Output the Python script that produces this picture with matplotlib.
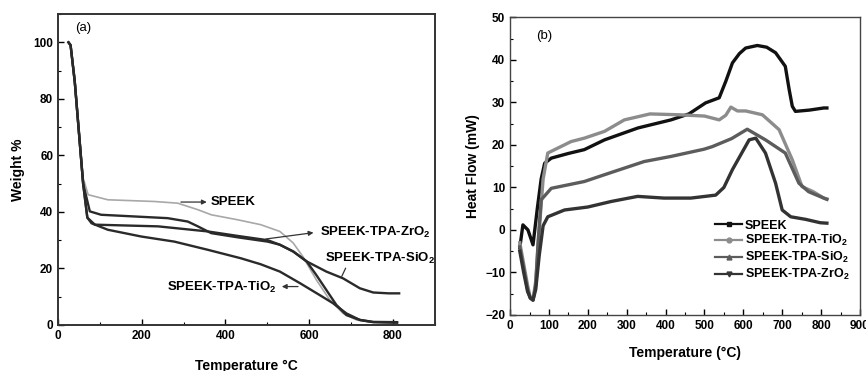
import matplotlib
matplotlib.use('Agg')
import matplotlib.pyplot as plt
from matplotlib.ticker import MultipleLocator

plt.rcParams['font.family'] = ['Liberation Sans', 'DejaVu Sans']
plt.rcParams['font.weight'] = 'bold'
plt.rcParams['mathtext.fontset'] = 'custom'
plt.rcParams['mathtext.rm'] = 'Liberation Sans:bold'
plt.rcParams['mathtext.bf'] = 'Liberation Sans:bold'
plt.rcParams['mathtext.default'] = 'bf'

# ---- (a) TGA data ----
tga_speek_x = [25, 30, 40, 50, 60, 72, 119, 230, 286, 334, 366, 430, 484, 530, 562, 585, 617, 649, 681, 713, 745, 780, 810]
tga_speek_y = [100, 99, 88, 70, 52, 46.1, 44.3, 43.7, 43.1, 40.8, 39, 37.2, 35.5, 33.1, 29, 24.2, 16, 8.9, 4.1, 1.8, 1, 0.9, 0.9]

tga_zro2_x = [25, 30, 40, 50, 60, 76, 103, 262, 310, 334, 366, 430, 501, 530, 562, 594, 617, 641, 665, 689, 721, 753, 810]
tga_zro2_y = [100, 99, 86, 68, 50, 40.2, 39, 37.8, 36.6, 34.9, 32.5, 31, 29.5, 28.4, 26, 22.5, 17.7, 12.4, 7.1, 3.5, 1.8, 1, 0.8]

tga_sio2_x = [25, 30, 40, 50, 60, 70, 88, 239, 358, 430, 501, 530, 562, 594, 641, 681, 721, 753, 790, 815]
tga_sio2_y = [100, 99, 86, 68, 50, 38, 35.5, 34.9, 33.1, 31.5, 30, 28.4, 26, 22.5, 18.9, 16.5, 13, 11.5, 11.2, 11.2]

tga_tio2_x = [25, 30, 40, 50, 60, 70, 80, 119, 199, 278, 358, 437, 484, 530, 578, 625, 657, 689, 721, 753, 810]
tga_tio2_y = [100, 99, 86, 68, 50, 38, 36, 33.7, 31.3, 29.5, 26.6, 23.6, 21.5, 18.9, 14.8, 10.6, 7.7, 4.1, 1.8, 1.1, 1]

# ---- (b) DSC data ----
dsc_speek_x = [25, 33, 46, 59, 70, 80, 89, 106, 150, 191, 243, 329, 414, 460, 503, 538, 555, 572, 590, 606, 636, 660, 683, 708, 718, 726, 734, 770, 807, 815]
dsc_speek_y = [-4.2, 1.2, 0, -3.5, 5, 12, 15.7, 16.9, 18, 18.9, 21.2, 24, 25.9, 27.3, 29.9, 31.1, 35, 39.3, 41.5, 42.8, 43.4, 43, 41.7, 38.5, 33, 29.1, 27.9, 28.2, 28.7, 28.7]

dsc_tio2_x = [25, 35, 45, 52, 59, 66, 75, 85, 97, 157, 191, 243, 294, 360, 434, 500, 538, 555, 568, 585, 606, 649, 692, 726, 751, 780, 807, 815]
dsc_tio2_y = [-3, -8, -13, -16, -16.5, -12, 0, 12, 18.1, 20.8, 21.6, 23.2, 25.9, 27.3, 27.1, 26.8, 25.9, 27, 28.9, 28, 28, 27.1, 23.6, 16.5, 10.2, 9, 7.5, 7.3]

dsc_sio2_x = [25, 35, 45, 52, 59, 66, 72, 80, 106, 191, 243, 345, 414, 499, 520, 570, 610, 657, 708, 743, 768, 807, 815]
dsc_sio2_y = [-4, -9, -14, -16, -16.5, -13, -3, 7.1, 9.8, 11.4, 13, 16.1, 17.3, 19, 19.6, 21.5, 23.7, 21.2, 18.1, 11, 9, 7.5, 7.2]

dsc_zro2_x = [25, 35, 45, 52, 59, 66, 75, 85, 97, 140, 200, 260, 328, 396, 465, 529, 550, 572, 615, 632, 657, 683, 700, 722, 760, 798, 815]
dsc_zro2_y = [-5, -10, -14.5, -16, -16.5, -14, -6, 1, 3.1, 4.7, 5.4, 6.7, 7.9, 7.5, 7.5, 8.2, 10, 14.2, 21.2, 21.6, 18.1, 11, 4.7, 3.1, 2.5, 1.7, 1.6]

dsc_labels = ['SPEEK', 'SPEEK-TPA-TiO$_2$', 'SPEEK-TPA-SiO$_2$', 'SPEEK-TPA-ZrO$_2$']

fig = plt.figure(figsize=(8.66, 3.71), dpi=100)

# ---------------- panel (a) ----------------
ax1 = fig.add_axes([0.067, 0.124, 0.435, 0.838])
ax1.plot(tga_speek_x, tga_speek_y, color='#a8a8a8', lw=1.2)
ax1.plot(tga_zro2_x, tga_zro2_y, color='#2a2a2a', lw=1.7)
ax1.plot(tga_sio2_x, tga_sio2_y, color='#2a2a2a', lw=1.7)
ax1.plot(tga_tio2_x, tga_tio2_y, color='#2a2a2a', lw=1.7)
ax1.set_xlim(0, 900)
ax1.set_ylim(0, 110)
ax1.xaxis.set_major_locator(MultipleLocator(200))
ax1.xaxis.set_minor_locator(MultipleLocator(100))
ax1.yaxis.set_major_locator(MultipleLocator(20))
ax1.yaxis.set_minor_locator(MultipleLocator(10))
ax1.set_xticks([0, 200, 400, 600, 800])
ax1.set_ylabel('Weight %', fontsize=10, fontweight='bold', labelpad=6)
ax1.set_xlabel('Temperature °C', fontsize=10, fontweight='bold', labelpad=12)
ax1.text(40, 105, '(a)', fontsize=9.5, fontweight='normal', ha='left', va='center')

arrow = dict(arrowstyle='-|>', color='#333333', lw=0.9, mutation_scale=7)
ax1.annotate('', xy=(362, 43.5), xytext=(287, 43.5), arrowprops=arrow)
ax1.text(365, 43.5, 'SPEEK', fontsize=9.5, fontweight='bold', va='center')
ax1.annotate('', xy=(617, 32.8), xytext=(490, 30.3), arrowprops=arrow)
ax1.text(625, 32.8, 'SPEEK-TPA-ZrO$_2$', fontsize=9.5, fontweight='bold', va='center')
ax1.annotate('', xy=(675, 16.3), xytext=(690, 21), arrowprops=dict(arrowstyle='-', color='#333333', lw=0.9))
ax1.text(637, 23.6, 'SPEEK-TPA-SiO$_2$', fontsize=9.5, fontweight='bold', va='center')
ax1.annotate('', xy=(528, 13.6), xytext=(580, 13.6), arrowprops=arrow)
ax1.text(522, 13.4, 'SPEEK-TPA-TiO$_2$', fontsize=9.5, fontweight='bold', va='center', ha='right')

# ---------------- panel (b) ----------------
ax2 = fig.add_axes([0.589, 0.151, 0.404, 0.802])
colors = ['#111111', '#8c8c8c', '#5c5c5c', '#333333']
markers = ['s', 'o', '^', 'v']
series = [(dsc_speek_x, dsc_speek_y), (dsc_tio2_x, dsc_tio2_y),
          (dsc_sio2_x, dsc_sio2_y), (dsc_zro2_x, dsc_zro2_y)]
for (xs, ys), c, lab in zip(series, colors, dsc_labels):
    ax2.plot(xs, ys, color=c, lw=2.4, label=lab, solid_joinstyle='round')
# legend handles with marker
handles = [plt.Line2D([], [], color=c, lw=1.6, marker=m, markersize=3.5)
           for c, m in zip(colors, markers)]
ax2.legend(handles, dsc_labels, loc='lower right', frameon=False, fontsize=9,
           handlelength=2.2, handletextpad=0.2, labelspacing=0.15,
           borderaxespad=0.3, bbox_to_anchor=(0.995, 0.08))
ax2.set_xlim(0, 900)
ax2.set_ylim(-20, 50)
ax2.xaxis.set_major_locator(MultipleLocator(100))
ax2.xaxis.set_minor_locator(MultipleLocator(50))
ax2.yaxis.set_major_locator(MultipleLocator(10))
ax2.yaxis.set_minor_locator(MultipleLocator(5))
ax2.set_ylabel('Heat Flow (mW)', fontsize=10, fontweight='bold', labelpad=4)
ax2.set_xlabel('Temperature (°C)', fontsize=10, fontweight='bold', labelpad=10)
ax2.text(66, 45.6, '(b)', fontsize=9.5, fontweight='normal', ha='left', va='center')

for ax in (ax1, ax2):
    ax.tick_params(which='both', direction='in', labelsize=8.5, top=False, right=False)
    ax.tick_params(which='major', length=4, width=1)
    ax.tick_params(which='minor', length=2, width=0.8)
    for lbl in ax.get_xticklabels() + ax.get_yticklabels():
        lbl.set_fontweight('bold')
for s in ax1.spines.values():
    s.set_linewidth(1.4)
    s.set_color('#333333')
for s in ax2.spines.values():
    s.set_linewidth(1.0)
    s.set_color('#444444')

fig.savefig('out.png', dpi=100)
